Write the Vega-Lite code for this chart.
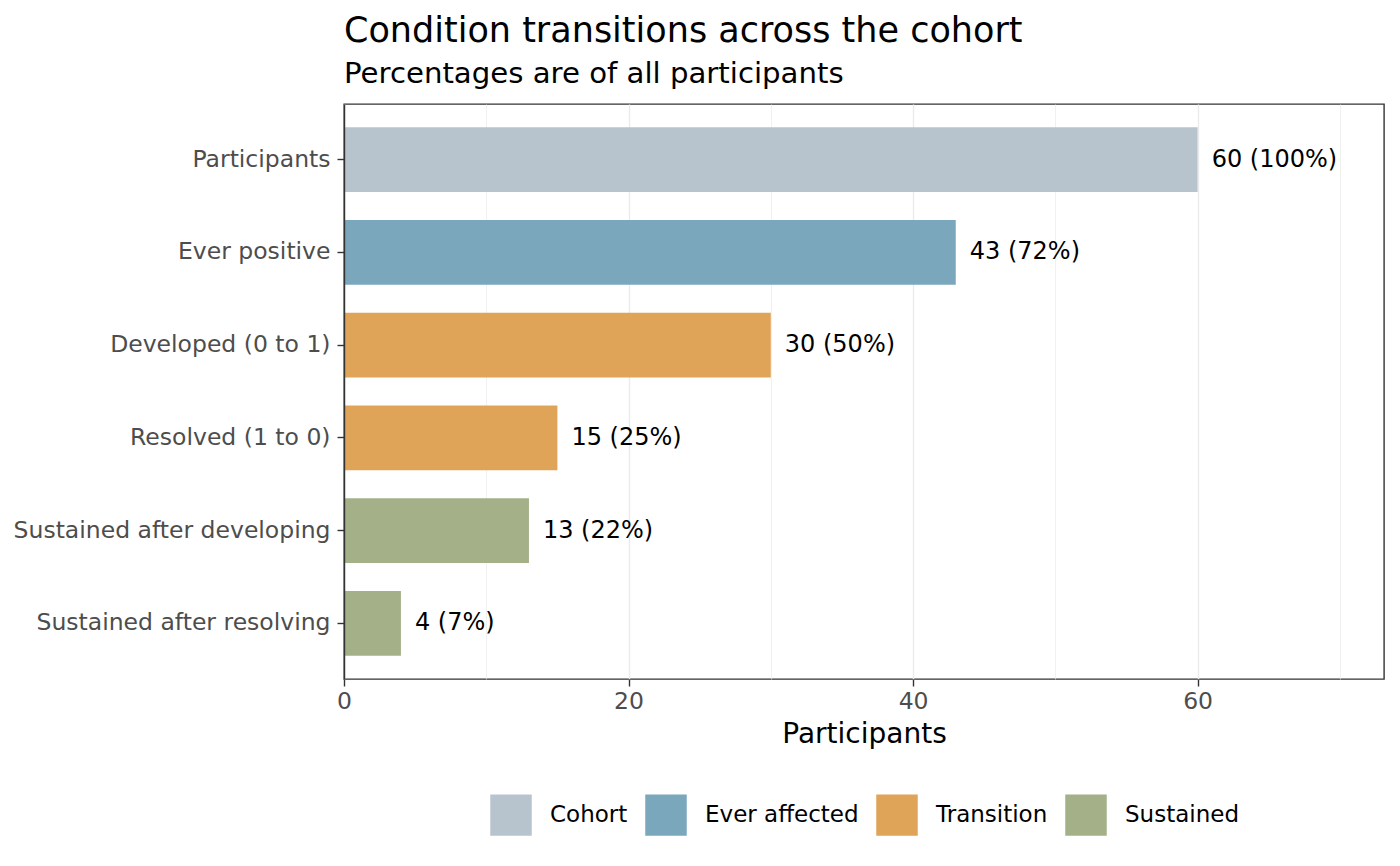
{
  "$schema": "https://vega.github.io/schema/vega-lite/v6.json",
  "description": "Condition transitions across the cohort",
  "autosize": {"type": "none"},
  "padding": {"left": 344, "top": 104, "right": 16, "bottom": 187},
  "width": 1040,
  "height": 575,
  "background": "white",
  "title": {
    "text": "Condition transitions across the cohort",
    "subtitle": "Percentages are of all participants",
    "anchor": "start",
    "frame": "group",
    "font": "DejaVu Sans",
    "fontSize": 35,
    "fontWeight": "normal",
    "color": "#000000",
    "subtitleFont": "DejaVu Sans",
    "subtitleFontSize": 29.2,
    "subtitleColor": "#000000",
    "subtitlePadding": 11,
    "offset": 15
  },
  "data": {
    "values": [
      {"stage": "Participants", "n": 60, "label": "60 (100%)", "group": "Cohort"},
      {"stage": "Ever positive", "n": 43, "label": "43 (72%)", "group": "Ever affected"},
      {"stage": "Developed (0 to 1)", "n": 30, "label": "30 (50%)", "group": "Transition"},
      {"stage": "Resolved (1 to 0)", "n": 15, "label": "15 (25%)", "group": "Transition"},
      {"stage": "Sustained after developing", "n": 13, "label": "13 (22%)", "group": "Sustained"},
      {"stage": "Sustained after resolving", "n": 4, "label": "4 (7%)", "group": "Sustained"}
    ]
  },
  "encoding": {
    "y": {
      "field": "stage",
      "type": "nominal",
      "sort": null,
      "title": null,
      "scale": {"paddingInner": 0.3, "paddingOuter": 0.25},
      "axis": {
        "labelFont": "DejaVu Sans",
        "labelFontSize": 23.5,
        "labelColor": "#4D4D4D",
        "labelPadding": 7,
        "labelLimit": 400,
        "tickColor": "#333333",
        "tickSize": 7,
        "tickWidth": 1.4,
        "domain": true,
        "domainColor": "#333333",
        "domainWidth": 1.4,
        "grid": false,
        "zindex": 1
      }
    },
    "x": {
      "field": "n",
      "type": "quantitative",
      "title": "Participants",
      "scale": {"domain": [0, 73.1], "nice": false, "zero": true},
      "axis": {
        "values": [0, 10, 20, 30, 40, 50, 60, 70],
        "labelExpr": "datum.value % 20 === 0 ? datum.label : ''",
        "labelFlush": false,
        "labelFont": "DejaVu Sans",
        "labelFontSize": 23.5,
        "labelColor": "#4D4D4D",
        "labelPadding": 3,
        "tickColor": "#333333",
        "tickSize": 7,
        "tickWidth": 1.4,
        "tickOpacity": {"condition": {"test": "datum.value % 20 === 0", "value": 1}, "value": 0},
        "domain": false,
        "grid": true,
        "gridColor": "#EBEBEB",
        "gridWidth": {"condition": {"test": "datum.value % 20 === 0", "value": 1.4}, "value": 0.7},
        "titleFont": "DejaVu Sans",
        "titleFontSize": 28,
        "titleFontWeight": "normal",
        "titleColor": "#000000",
        "titlePadding": 8
      }
    }
  },
  "layer": [
    {
      "mark": {"type": "bar"},
      "encoding": {
        "color": {
          "field": "group",
          "type": "nominal",
          "title": null,
          "scale": {
            "domain": ["Cohort", "Ever affected", "Transition", "Sustained"],
            "range": ["#B8C4CD", "#7BA7BD", "#E0A458", "#A3B088"]
          },
          "legend": {
            "orient": "bottom",
            "direction": "horizontal",
            "symbolType": "square",
            "symbolSize": 1722,
            "symbolStrokeWidth": 0,
            "symbolOpacity": 1,
            "labelFont": "DejaVu Sans",
            "labelFontSize": 23,
            "labelColor": "#000000",
            "labelOffset": 18,
            "columnPadding": 17,
            "offset": 45
          }
        }
      }
    },
    {
      "mark": {
        "type": "text",
        "align": "left",
        "baseline": "middle",
        "dx": 14,
        "font": "DejaVu Sans",
        "fontSize": 24,
        "color": "#000000"
      },
      "encoding": {
        "text": {"field": "label", "type": "nominal"}
      }
    }
  ],
  "config": {
    "view": {"stroke": "#333333", "strokeWidth": 1.4},
    "legend": {"layout": {"bottom": {"anchor": "middle"}}}
  }
}
